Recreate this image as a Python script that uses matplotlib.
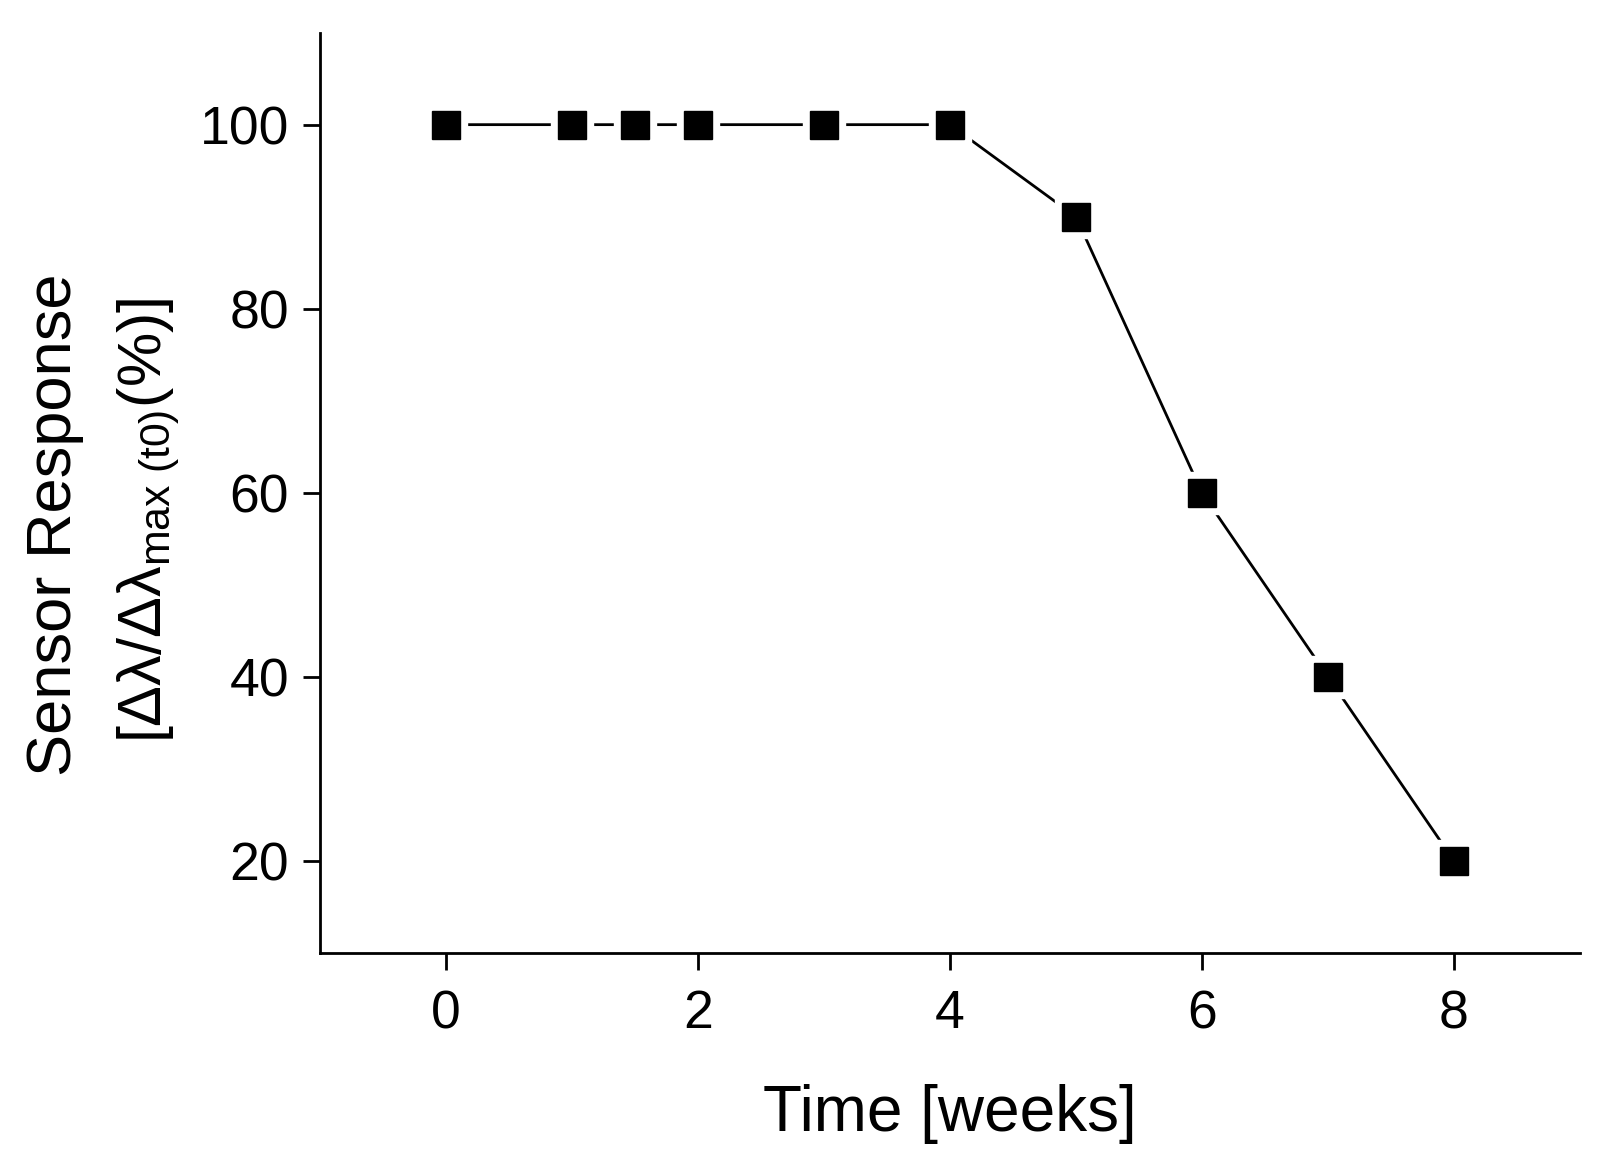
import matplotlib
matplotlib.use("Agg")
import matplotlib.pyplot as plt

plt.rcParams["font.family"] = ["Liberation Sans", "DejaVu Sans"]
plt.rcParams["mathtext.fontset"] = "custom"
plt.rcParams["mathtext.rm"] = "Liberation Sans"
plt.rcParams["mathtext.it"] = "Liberation Sans:italic"

# Sensor response over storage time
weeks = [0, 1, 1.5, 2, 3, 4, 5, 6, 7, 8]
response = [100, 100, 100, 100, 100, 100, 90, 60, 40, 20]
x_ticks = [0, 2, 4, 6, 8]
y_ticks = [20, 40, 60, 80, 100]

fig = plt.figure(figsize=(16.14, 11.65), dpi=100)
ax = fig.add_axes([0.198, 0.182, 0.781, 0.790])

ax.plot(weeks, response, color="black", lw=2, zorder=2)
# white halo so the line stops short of each marker
ax.plot(weeks, response, ls="none", marker="s", ms=30, mfc="white", mec="white", zorder=3)
ax.plot(weeks, response, ls="none", marker="s", ms=19.5, mfc="black", mec="black", zorder=4)

ax.set_xlim(-1, 9)
ax.set_ylim(10, 110)
ax.set_xticks(x_ticks)
ax.set_yticks(y_ticks)

for side in ("top", "right"):
    ax.spines[side].set_visible(False)
for side in ("left", "bottom"):
    ax.spines[side].set_linewidth(2)

ax.tick_params(direction="out", length=12, width=2, labelsize=38.5)
ax.tick_params(axis="x", pad=14)
ax.tick_params(axis="y", pad=10)

ax.set_xlabel("Time [weeks]", fontsize=46, labelpad=32)
fig.text(0.034, 0.550, "Sensor Response", rotation=90, fontsize=45.5,
         ha="center", va="center")
fig.text(0.092, 0.553, r"[Δλ/Δλ$_{\mathrm{max\ (t0)}}$(%)]", rotation=90,
         fontsize=44, ha="center", va="center")

fig.savefig("out.png", dpi=100)
